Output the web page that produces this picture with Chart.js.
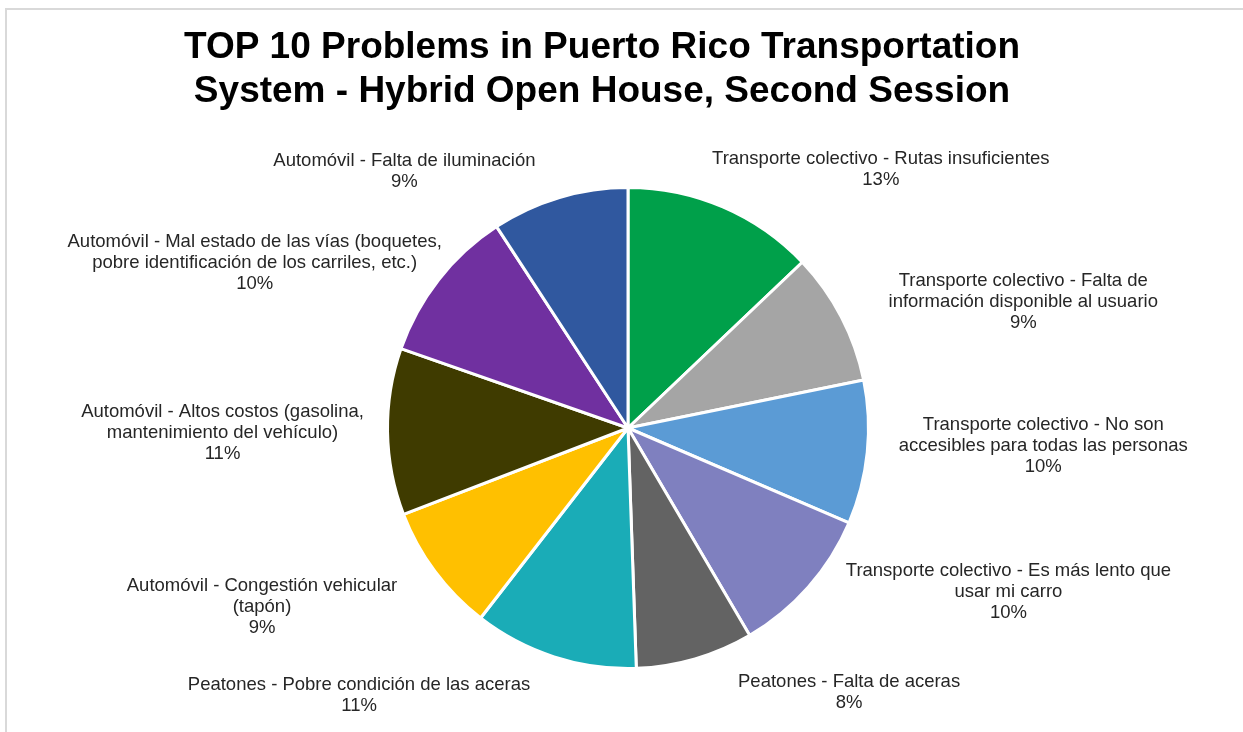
<!DOCTYPE html>
<html>
<head>
<meta charset="utf-8">
<script src="https://cdn.jsdelivr.net/npm/chart.js@4.4.1/dist/chart.umd.min.js"></script>
<style>
  html, body { margin: 0; padding: 0; background: #fff; }
  #marco { position: absolute; left: 5px; top: 8px; width: 1300px; height: 800px; border: 2px solid #d9d9d9; box-sizing: border-box; }
  #wrap { position: absolute; left: 0; top: 0; width: 1243px; height: 732px; }
</style>
</head>
<body>
<div id="marco"></div>
<div id="wrap"><canvas id="graficoPie" width="1243" height="732"></canvas></div>
<script>
const titulo = ["TOP 10 Problems in Puerto Rico Transportation", "System - Hybrid Open House, Second Session"];

const categorias = [
    ["Transporte colectivo - Rutas insuficientes"],
    ["Transporte colectivo - Falta de", "información disponible al usuario"],
    ["Transporte colectivo - No son", "accesibles para todas las personas"],
    ["Transporte colectivo - Es más lento que", "usar mi carro"],
    ["Peatones - Falta de aceras"],
    ["Peatones - Pobre condición de las aceras"],
    ["Automóvil - Congestión vehicular", "(tapón)"],
    ["Automóvil - Altos costos (gasolina,", "mantenimiento del vehículo)"],
    ["Automóvil - Mal estado de las vías (boquetes,", "pobre identificación de los carriles, etc.)"],
    ["Automóvil - Falta de iluminación"]
];

// porcentajes
const valores = [12.9, 8.9, 9.65, 10.1, 7.9, 11.05, 8.65, 11.2, 10.45, 9.2];

const colores = ["#00a04a", "#a5a5a5", "#5b9bd5", "#7f80bf", "#636363",
                 "#1aacb7", "#ffc000", "#3f3b00", "#7030a0", "#30589f"];

// desplazamiento de cada etiqueta desde el borde de su rebanada
const desplazamientos = [[158, -38], [182, -15], [176, -7], [200, 5], [154, 33],
                         [-195, 39], [-173, 35], [-165, 1], [-184, -17], [-155, -26]];

const etiquetasFuera = {
    id: "etiquetasFuera",
    afterDatasetsDraw(chart) {
        const ctx = chart.ctx;
        const meta = chart.getDatasetMeta(0);
        const datos = chart.data.datasets[0].data;
        const total = datos.reduce((a, b) => a + b, 0);
        ctx.save();
        ctx.font = "18.5px 'Liberation Sans', Arial, sans-serif";
        ctx.fillStyle = "#262626";
        ctx.textAlign = "center";
        ctx.textBaseline = "middle";
        meta.data.forEach((arco, i) => {
            const p = arco.getProps(["x", "y", "startAngle", "endAngle", "outerRadius"], true);
            const medio = (p.startAngle + p.endAngle) / 2;
            const bx = p.x + Math.cos(medio) * p.outerRadius;
            const by = p.y + Math.sin(medio) * p.outerRadius;
            const lineas = chart.data.labels[i].concat([Math.round(datos[i] / total * 100) + "%"]);
            const alto = 21;
            const cx = bx + desplazamientos[i][0];
            const cy = by + desplazamientos[i][1] - (lineas.length - 1) * alto / 2;
            lineas.forEach((linea, j) => ctx.fillText(linea, cx, cy + j * alto));
        });
        ctx.restore();
    }
};

const tituloPlugin = {
    id: "tituloPlugin",
    afterDraw(chart) {
        const ctx = chart.ctx;
        ctx.save();
        ctx.font = "bold 37px 'Liberation Sans', Arial, sans-serif";
        ctx.fillStyle = "#000";
        ctx.textAlign = "center";
        ctx.textBaseline = "middle";
        titulo.forEach((t, j) => ctx.fillText(t, 602, 48 + j * 44));
        ctx.restore();
    }
};

const graficoPie = new Chart(document.getElementById("graficoPie"), {
    type: "pie",
    data: {
        labels: categorias,
        datasets: [{
            data: valores,
            backgroundColor: colores,
            borderColor: "#ffffff",
            borderWidth: 3
        }]
    },
    options: {
        responsive: false,
        animation: false,
        layout: { padding: { left: 386, top: 186, right: 373, bottom: 62 } },
        plugins: {
            legend: { display: false },
            tooltip: { enabled: false }
        }
    },
    plugins: [etiquetasFuera, tituloPlugin]
});
</script>
</body>
</html>
